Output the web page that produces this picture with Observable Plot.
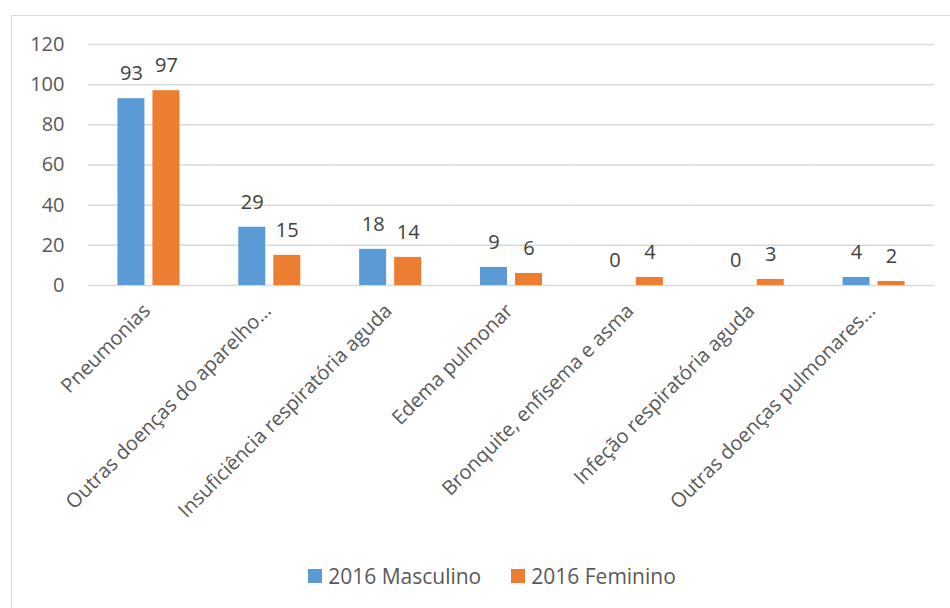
<!DOCTYPE html>
<html><head><meta charset="utf-8">
<script src="https://cdn.jsdelivr.net/npm/d3@7"></script>
<script src="https://cdn.jsdelivr.net/npm/@observablehq/plot@0.6"></script>
<style>
body{margin:0;background:#fff;overflow:hidden;width:950px;height:608px;position:relative;font-family:"Open Sans",sans-serif;}
#frame{position:absolute;left:11px;top:15px;width:1000px;height:700px;border:1.5px solid #d9d9d9;box-sizing:border-box;}
#chart{position:absolute;left:0;top:0;}
#legend{position:absolute;left:17px;top:562px;width:950px;display:flex;justify-content:center;align-items:center;font-size:21px;color:#595959;}
#legend .item{display:flex;align-items:center;margin:0 15px;}
#legend .sw{width:14px;height:14px;margin-right:6px;}
</style></head><body>
<div id="frame"></div><div id="chart"></div><div id="legend"></div>
<script>
const categories = ["Pneumonias","Outras doenças do aparelho…","Insuficiência respiratória aguda","Edema pulmonar","Bronquite, enfisema e asma","Infeção respiratória aguda","Outras doenças pulmonares…"];
const series = ["2016 Masculino","2016 Feminino"];
const masculino = [93,29,18,9,0,0,4];
const feminino = [97,15,14,6,4,3,2];
const colors = ["#5B9BD5","#ED7D31"];
const yTicks = [0,20,40,60,80,100,120];

const data = categories.flatMap((c,i)=>[
  {category:c, series:series[0], value:masculino[i]},
  {category:c, series:series[1], value:feminino[i]}
]);

const plot = Plot.plot({
  width:950, height:560, marginLeft:88, marginRight:16, marginTop:44, marginBottom:275,
  style:{fontFamily:"Open Sans", fontSize:"20px", color:"#595959", background:"transparent"},
  fx:{domain:categories, padding:0, round:false, label:null},
  x:{domain:series, paddingInner:0.229, paddingOuter:0.84, round:false, axis:null},
  y:{domain:[0,120], ticks:yTicks, label:null},
  color:{domain:series, range:colors},
  marks:[
    Plot.gridY(yTicks, {stroke:"#d9d9d9", strokeOpacity:1, strokeWidth:1.5}),
    Plot.barY(data, {fx:"category", x:"series", y:"value", fill:"series"}),
    Plot.text(data, {fx:"category", x:"series", y:"value", text:d=>String(d.value), dy:-25, fill:"#404040", fontSize:20}),
    Plot.axisY(yTicks, {tickSize:0, tickPadding:24, fontSize:20, label:null}),
    Plot.axisFx({anchor:"bottom", tickRotate:-45, tickSize:0, tickPadding:22, dx:-2, fontSize:20, label:null})
  ]
});
document.getElementById("chart").appendChild(plot);

const legend = document.getElementById("legend");
series.forEach((s,i)=>{
  const it = document.createElement("div"); it.className="item";
  const sw = document.createElement("div"); sw.className="sw"; sw.style.background=colors[i];
  const tx = document.createElement("span"); tx.textContent=s;
  it.appendChild(sw); it.appendChild(tx); legend.appendChild(it);
});
</script>
</body></html>
